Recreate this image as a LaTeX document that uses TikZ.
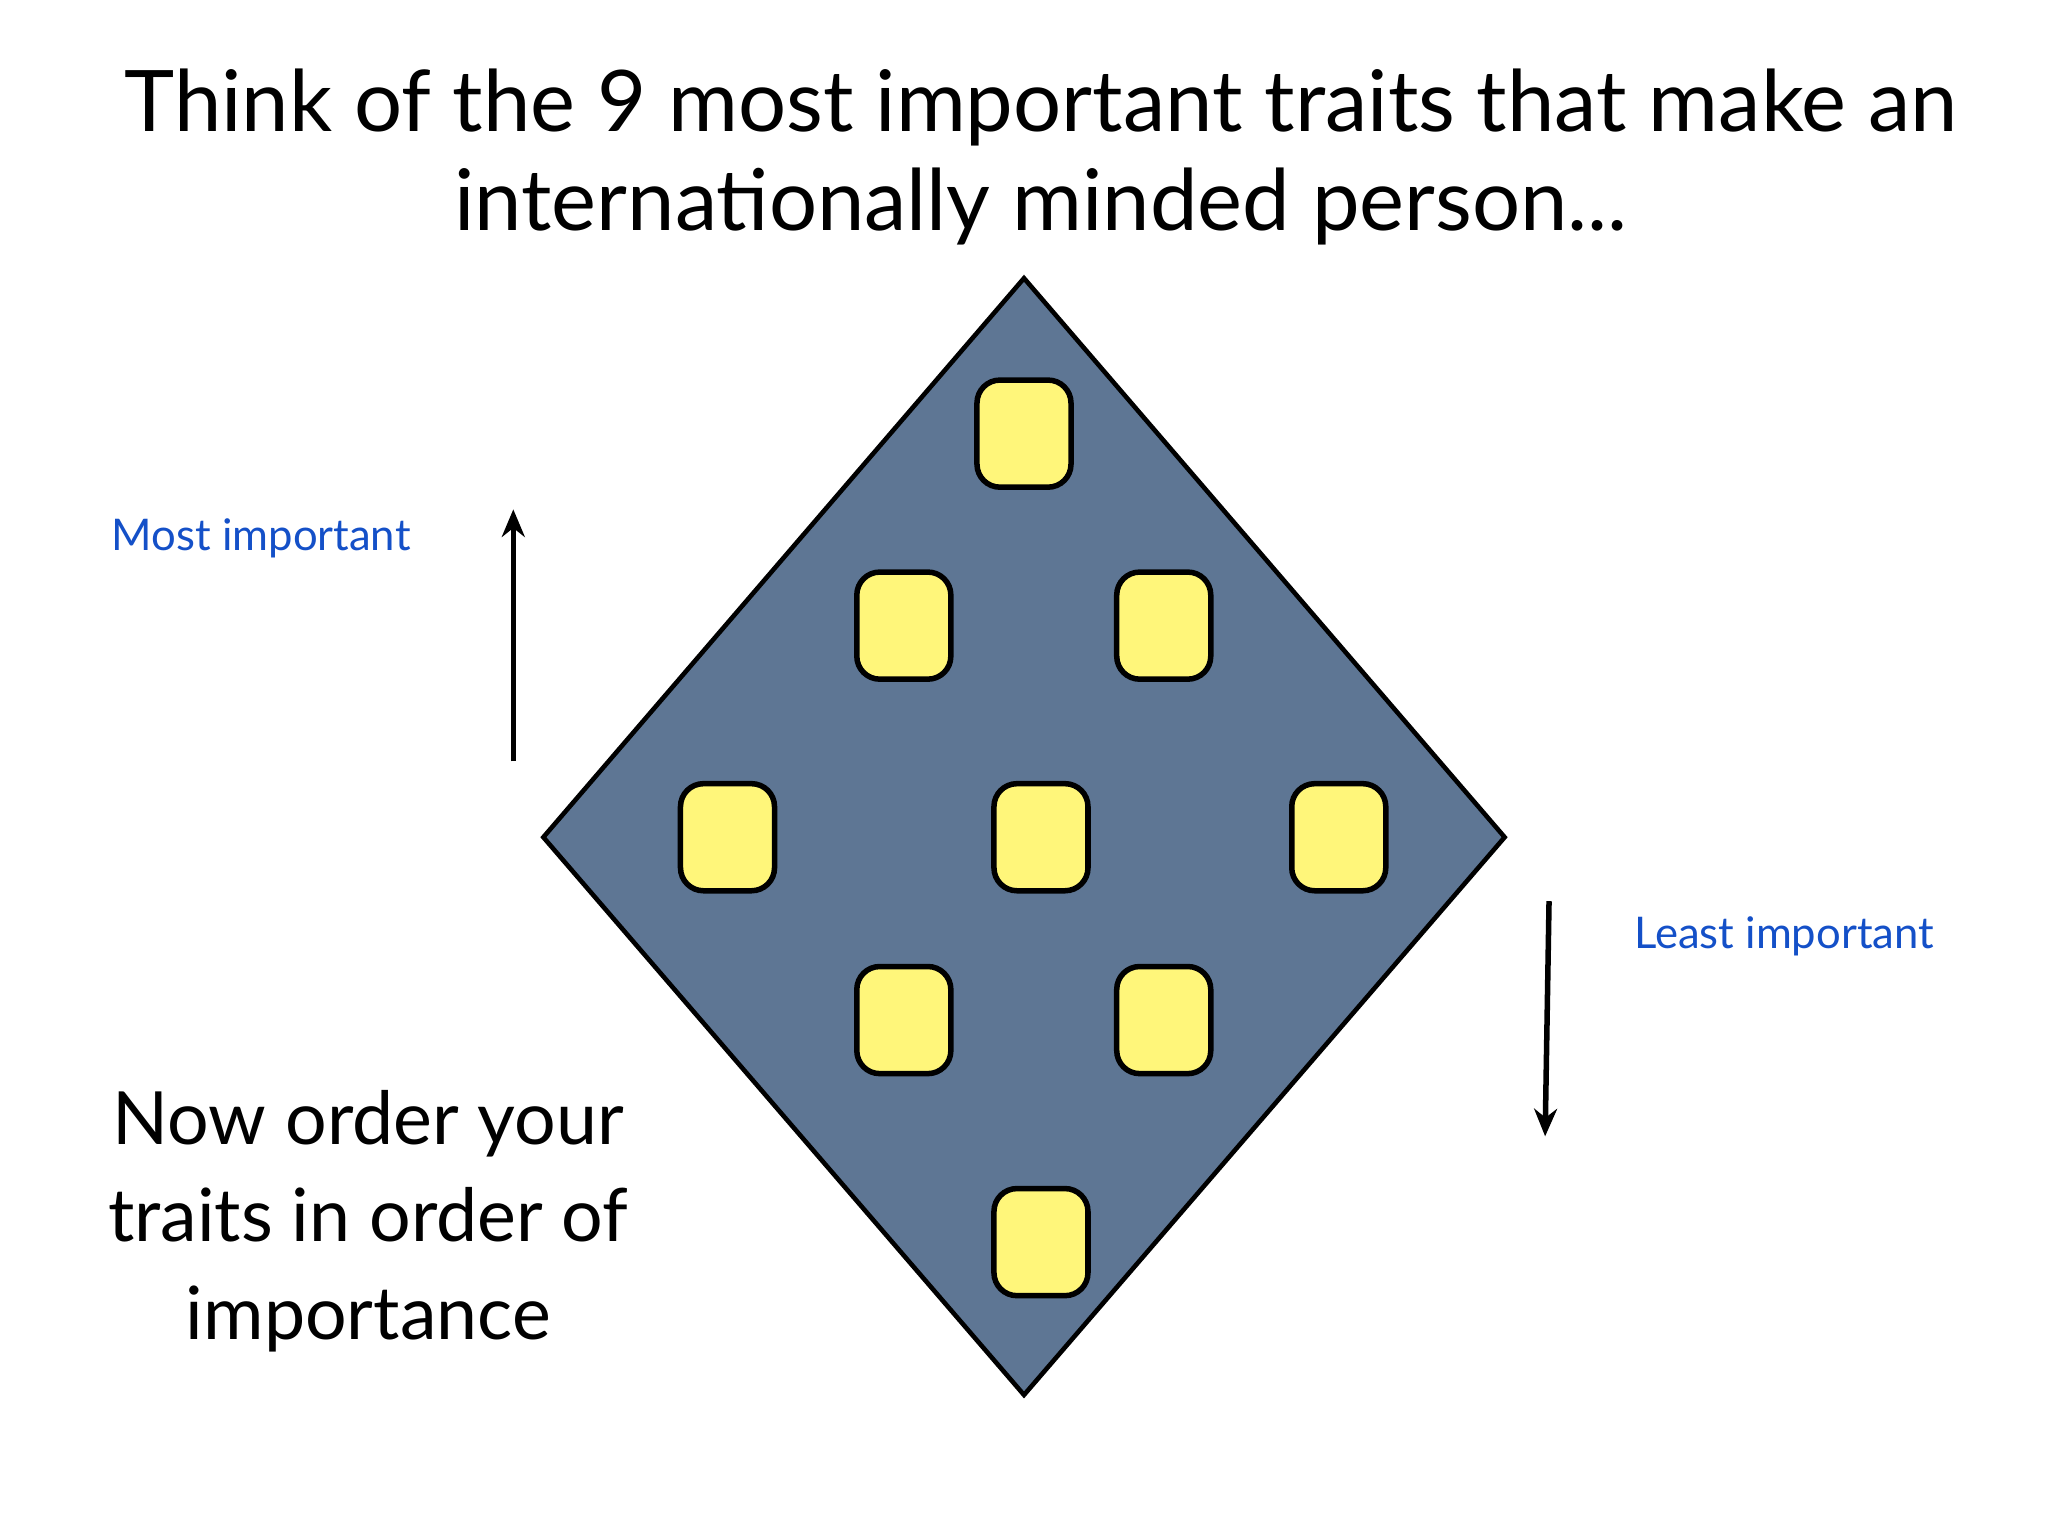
\documentclass[tikz,border=0pt]{standalone}
\usepackage{fontspec}
\setmainfont{Lato}
\usetikzlibrary{arrows.meta}
\definecolor{slate}{RGB}{94,118,148}
\definecolor{trait}{RGB}{255,246,122}
\definecolor{lbl}{RGB}{20,80,200}
\begin{document}
\begin{tikzpicture}[x=0.01cm,y=-0.01cm,
  traitbox/.style={draw=black,line width=1.2pt,fill=trait,rounded corners=5pt,minimum width=72*0.01cm,minimum height=82*0.01cm,inner sep=0pt},
  lbltext/.style={text=lbl,font=\fontsize{9.5pt}{11pt}\selectfont},
  arr/.style={-{Stealth[length=6pt,width=5pt]},line width=1.2pt}]
\useasboundingbox[fill=white] (0,0) rectangle (1568,1176);
\node[align=center,font=\fontsize{18.5pt}{21.5pt}\selectfont] (title) at (797,120) {Think of the 9 most important traits that make an\\internationally minded person...};
\draw[fill=slate,line width=1pt] (784,213) coordinate (dt) -- (1152,641) coordinate (dr) -- (784,1068) coordinate (db) -- (416,641) coordinate (dl) -- cycle;
\foreach \n/\x/\y in {a/784/332,b/692/479,c/891/479,d/557/641,e/797/641,f/1025/641,g/692/781,h/891/781,i/797/951}
  \node[traitbox] (\n) at (\x,\y) {};
\coordinate (u1) at (393,583); \coordinate (u2) at (393,390);
\draw[arr] (u1) -- (u2);
\coordinate (d1) at (1186,690); \coordinate (d2) at (1183,870);
\draw[arr] (d1) -- (d2);
\node[lbltext] (most) at (200,412) {Most important};
\node[lbltext] (least) at (1366,717) {Least important};
\node[align=center,font=\fontsize{16pt}{21.3pt}\selectfont] (now) at (282,935) {Now order your\\traits in order of\\importance};
\end{tikzpicture}
\end{document}
